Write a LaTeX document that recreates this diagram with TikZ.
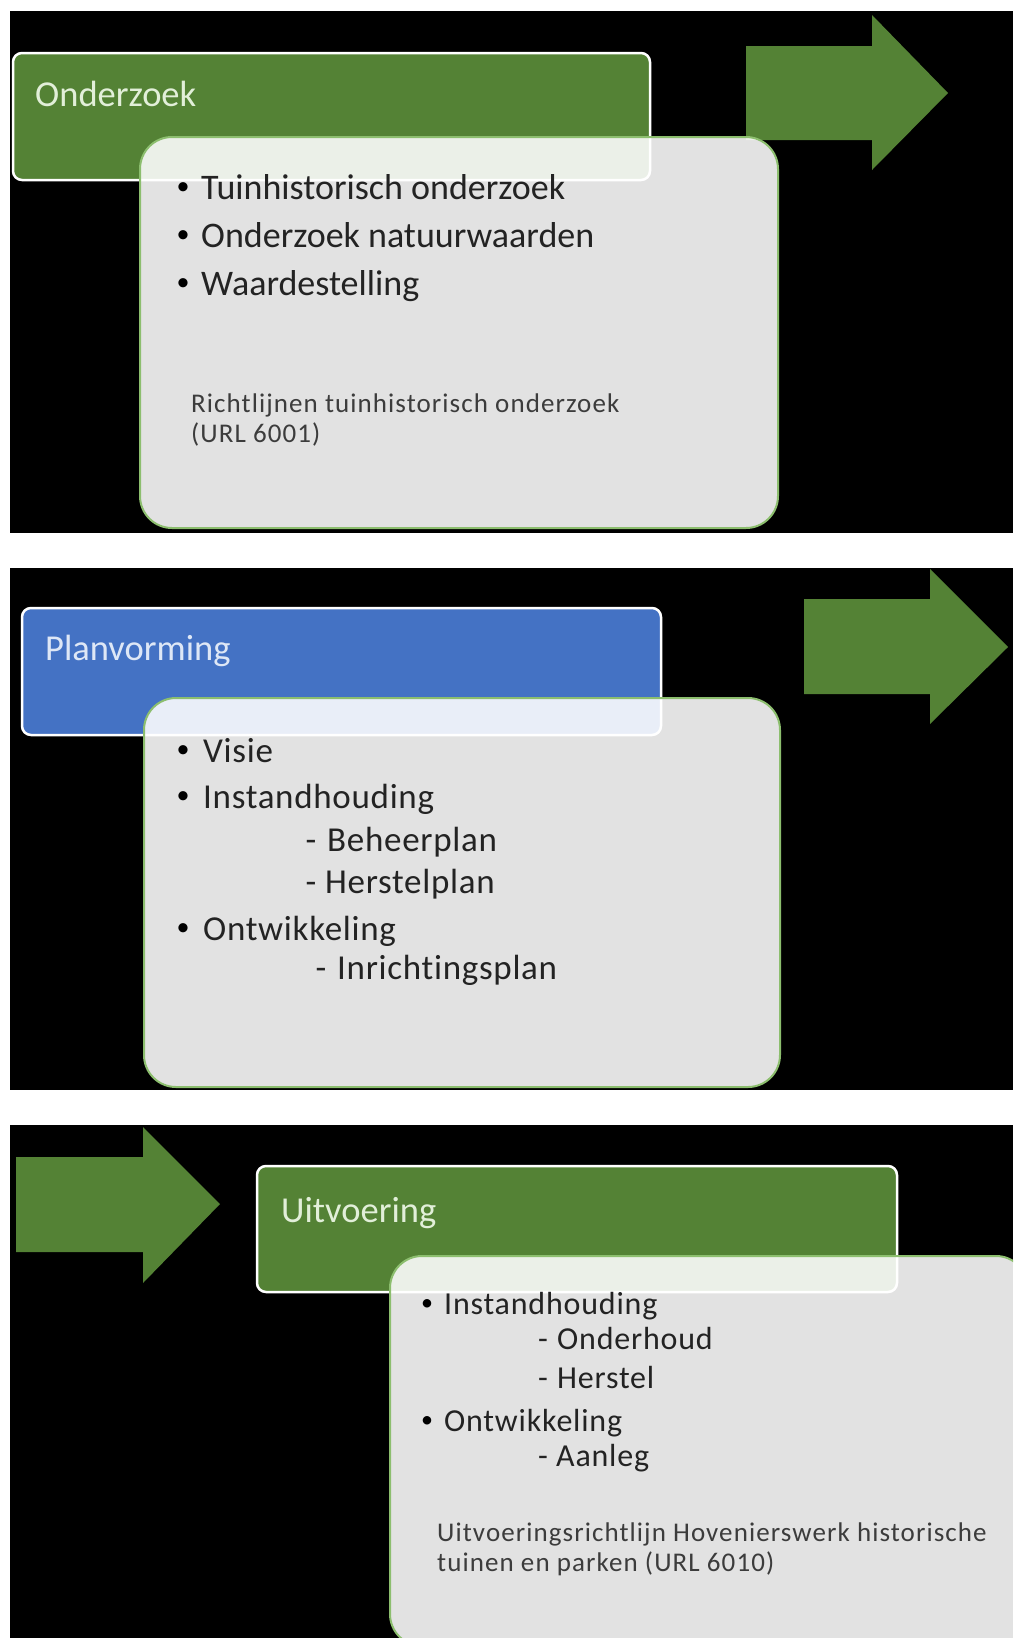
\documentclass[tikz,border=0pt]{standalone}
\usepackage{fontspec}
\setmainfont{Carlito}[Ligatures=NoCommon]
\definecolor{hgreen}{RGB}{84,130,53}
\definecolor{hblue}{RGB}{68,114,196}
\definecolor{cardedge}{RGB}{140,190,110}
\definecolor{txt}{RGB}{35,35,35}
\definecolor{smalltxt}{RGB}{60,60,60}
\definecolor{htxtg}{RGB}{226,239,217}
\definecolor{htxtb}{RGB}{222,231,246}
\tikzset{
  panel/.style={fill=black, draw=none},
  hdr/.style={draw=white, line width=2.5pt, rounded corners=9pt},
  card/.style={fill=white, fill opacity=0.886, draw=cardedge, draw opacity=1, line width=2pt, rounded corners=32pt},
  bigarrow/.style={fill=hgreen, draw=none},
  hdrtxt/.style={anchor=base west, inner sep=0pt, font=\fontsize{36.5}{44}\selectfont},
  bodyA/.style={anchor=base west, inner sep=0pt, text=txt, font=\fontsize{36}{43}\selectfont},
  bodyB/.style={anchor=base west, inner sep=0pt, text=txt, font=\fontsize{35}{42}\selectfont\addfontfeature{LetterSpace=2}},
  bodyC/.style={anchor=base west, inner sep=0pt, text=txt, font=\fontsize{32}{38}\selectfont\addfontfeature{LetterSpace=2.5}},
  bltA/.style={anchor=center, inner sep=0pt, text=black, font=\fontsize{26}{30}\selectfont},
  bltC/.style={anchor=center, inner sep=0pt, text=black, font=\fontsize{24}{28}\selectfont},
  dashB/.style={anchor=base, inner sep=0pt, text=txt, font=\fontsize{35}{42}\selectfont},
  dashC/.style={anchor=base, inner sep=0pt, text=txt, font=\fontsize{32}{38}\selectfont},
  small/.style={anchor=base west, inner sep=0pt, text=smalltxt, font=\fontsize{27}{30}\selectfont\addfontfeature{LetterSpace=4}},
}
\begin{document}
\begin{tikzpicture}[x=1pt,y=-1pt]
\useasboundingbox (0,0) rectangle (1013,1638);
\fill[white] (0,0) rectangle (1013,1638);
\begin{scope}
\clip (0,0) rectangle (1013,1638);
% ---------- panel 1 ----------
\fill[panel] (10,11) rectangle (1013,533);
\draw[hdr, fill=hgreen] (13,53) rectangle (650,180);
\fill[bigarrow] (746,46) -- (872,46) -- (872,15) -- (948,93) -- (872,170) -- (872,140) -- (746,140) -- cycle;
\draw[card] (140,137) rectangle (778,528);
% ---------- panel 2 ----------
\fill[panel] (10,568) rectangle (1013,1090);
\draw[hdr, fill=hblue] (22,608) rectangle (661,735);
\fill[bigarrow] (804,599) -- (930,599) -- (930,569) -- (1008,647) -- (930,724) -- (930,694) -- (804,694) -- cycle;
\draw[card] (144,698) rectangle (780,1087);
% ---------- panel 3 ----------
\fill[panel] (10,1125) rectangle (1013,1638);
\fill[bigarrow] (16,1157) -- (143,1157) -- (143,1127) -- (220,1204) -- (143,1283) -- (143,1252) -- (16,1252) -- cycle;
\draw[hdr, fill=hgreen] (257,1166) rectangle (897,1292);
\draw[card] (390,1256) rectangle (1028,1646);
\end{scope}

% ---------- texts panel 1 ----------
\node[hdrtxt, text=htxtg] (h1) at (35,106) {Onderzoek};
\node[bltA] (p1b1) at (183,189) {•};
\node[bodyA] (p1l1) at (201,199) {Tuinhistorisch onderzoek};
\node[bltA] (p1b2) at (183,237) {•};
\node[bodyA] (p1l2) at (201,247) {Onderzoek natuurwaarden};
\node[bltA] (p1b3) at (183,285) {•};
\node[bodyA] (p1l3) at (201,295) {Waardestelling};
\node[small] (p1s1) at (191,412) {Richtlijnen tuinhistorisch onderzoek};
\node[small] (p1s2) at (191,442) {(URL 6001)};

% ---------- texts panel 2 ----------
\node[hdrtxt, text=htxtb] (h2) at (45,660) {Planvorming};
\node[bltA] (p2b1) at (183,752) {•};
\node[bodyB] (p2l1) at (203,762) {Visie};
\node[bltA] (p2b2) at (183,798) {•};
\node[bodyB] (p2l2) at (203,808) {Instandhouding};
\node[dashB] (p2d1) at (311,851) {-};
\node[bodyB] (p2l3) at (327,851) {Beheerplan};
\node[dashB] (p2d2) at (311,893) {-};
\node[bodyB] (p2l4) at (325,893) {Herstelplan};
\node[bltA] (p2b3) at (183,930) {•};
\node[bodyB] (p2l5) at (203,940) {Ontwikkeling};
\node[dashB] (p2d3) at (321,979) {-};
\node[bodyB] (p2l6) at (337,979) {Inrichtingsplan};

% ---------- texts panel 3 ----------
\node[hdrtxt, text=htxtg] (h3) at (281,1222) {Uitvoering};
\node[bltC] (p3b1) at (427,1305) {•};
\node[bodyC] (p3l1) at (444,1314) {Instandhouding};
\node[dashC] (p3d1) at (543,1349) {-};
\node[bodyC] (p3l2) at (557,1349) {Onderhoud};
\node[dashC] (p3d2) at (543,1388) {-};
\node[bodyC] (p3l3) at (557,1388) {Herstel};
\node[bltC] (p3b2) at (427,1422) {•};
\node[bodyC] (p3l4) at (444,1431) {Ontwikkeling};
\node[dashC] (p3d3) at (543,1466) {-};
\node[bodyC] (p3l5) at (556,1466) {Aanleg};
\node[small] (p3s1) at (437,1541) {Uitvoeringsrichtlijn Hovenierswerk historische};
\node[small] (p3s2) at (437,1571) {tuinen en parken (URL 6010)};
\end{tikzpicture}
\end{document}
